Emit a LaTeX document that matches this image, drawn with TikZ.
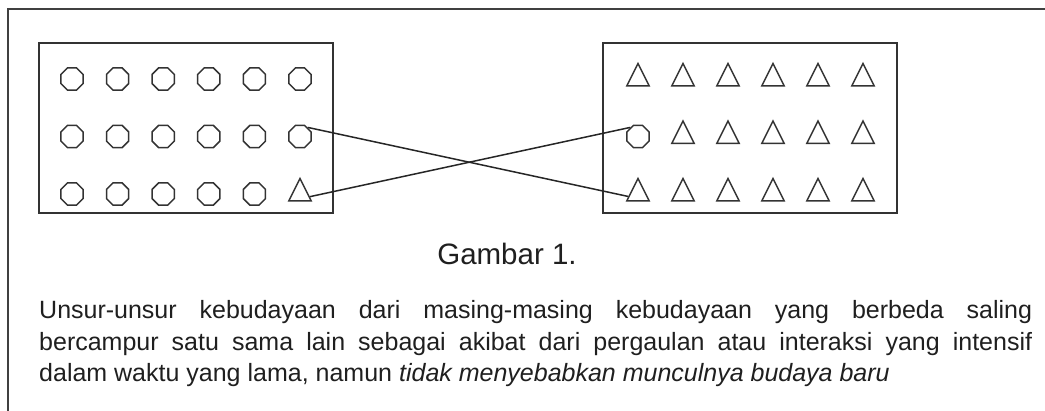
\documentclass[tikz,border=0pt]{standalone}
\usepackage{fontspec}
\setmainfont{Liberation Sans}
\usetikzlibrary{shapes.geometric}
\tikzset{
  ink/.style={draw=black!80, line width=1.5pt},
  oct/.style={ink, regular polygon, regular polygon sides=8, minimum size=24pt, inner sep=0pt},
  tri/.style={ink, isosceles triangle, isosceles triangle apex angle=53, isosceles triangle stretches,
    shape border rotate=90, minimum width=22.5pt, minimum height=22.5pt, inner sep=0pt, line join=miter},
  panel/.style={draw=black!80, line width=1.8pt, rectangle, inner sep=0pt},
  conn/.style={draw=black!85, line width=1.5pt},
  bodytext/.style={text width=993pt, align=justify, inner sep=0pt, text=black!88,
    font=\fontsize{25}{31.5}\selectfont},
}
\begin{document}
\begin{tikzpicture}[x=1pt,y=-1pt]
\useasboundingbox (0,0) rectangle (1045,411);
% outer frame (only top and left edges visible)
\draw[black!75, line width=2pt] (8,411) -- (8,9.5) -- (1045,9.5);
% panels
\node[panel, minimum width=294pt, minimum height=170pt] (boxL) at (186,128) {};
\node[panel, minimum width=294pt, minimum height=170pt] (boxR) at (750,128) {};
% symbols
\foreach \r/\y in {1/79,2/136.5,3/194}{
  \foreach \c in {1,...,6}{
    \pgfmathsetmacro\xl{72+(\c-1)*45.6}
    \pgfmathsetmacro\xr{638+(\c-1)*45}
    \ifnum\r\c=36 \node[tri] (L\r\c) at (\xl,\y) {}; \else \node[oct] (L\r\c) at (\xl,\y) {}; \fi
    \ifnum\r\c=21 \node[oct] (R\r\c) at (\xr,\y) {}; \else \node[tri] (R\r\c) at (\xr,\y) {}; \fi
  }
}
% connectors
\draw[conn] (L26.50) -- (R31.194);
\draw[conn] (L36.-15) -- (R21.130);
% caption
\node[anchor=base, text=black!88, inner sep=0pt, font=\fontsize{29.5}{32}\selectfont] (cap) at (507,265) {Gambar 1.};
% body text
\node[bodytext, anchor=base west] (body) at (39,319)
{\hyphenpenalty=10000 \exhyphenpenalty=10000 \tolerance=10000 \baselineskip=31.5pt
Unsur-unsur kebudayaan dari masing-masing kebudayaan yang berbeda saling\linebreak
bercampur satu sama lain sebagai akibat dari pergaulan atau interaksi yang intensif\linebreak
dalam waktu yang lama, namun \textit{tidak menyebabkan munculnya budaya baru}\par};
\end{tikzpicture}
\end{document}
